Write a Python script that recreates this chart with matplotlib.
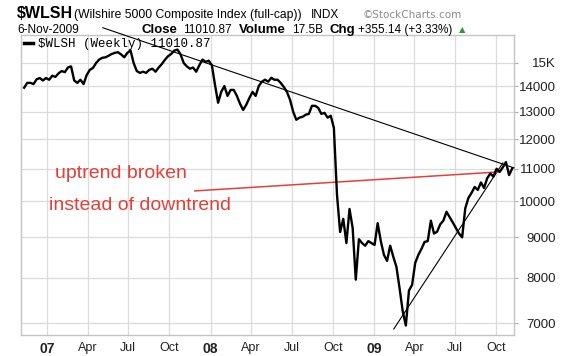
import numpy as np
import pandas as pd
import matplotlib
matplotlib.use("Agg")
import matplotlib.pyplot as plt
import matplotlib.dates as mdates
from matplotlib.ticker import FixedLocator, FixedFormatter, NullLocator

plt.rcParams['font.family'] = ['Liberation Sans', 'DejaVu Sans']

# --- dane (tygodniowe zamknięcia) ---
dates = pd.date_range('2006-11-10', '2009-11-06', freq='W-FRI')
wlsh = [
    13950, 14150, 14150, 14100, 14300, 14350, 14250, 14350, 14280, 14450,
    14400, 14550, 14650, 14600, 14800, 14850, 14250, 14150, 14280, 14100,
    14480, 14700, 14780, 15000, 15150, 15230, 15250, 15320, 15400, 15450,
    15480, 15380, 15250, 15450, 15560, 15000, 14650, 14570, 14620, 14570,
    14700, 14750, 14620, 14800, 14950, 15140, 15300, 15400, 15550, 15600,
    15380, 15000, 14850, 14750, 14800, 14620, 14900, 15150, 15050, 15100,
    14900, 14070, 13350, 13780, 14020, 13620, 13860, 13860, 13620, 13310,
    13070, 13270, 13540, 13780, 13620, 14020, 14200, 14280, 14200, 14360,
    14280, 14280, 14150, 13980, 13780, 13460, 13000, 12700, 12780, 12810,
    12890, 12920, 13230, 13230, 13150, 12920, 12960, 12780, 12850, 12400,
    10190, 9140, 9500, 8850, 9780, 9250, 7950, 8950, 8850, 8780,
    8900, 8850, 8800, 9380, 8900, 8550, 8400, 8780, 8500, 8250,
    7750, 7250, 6950, 7700, 7830, 8350, 8550, 8700, 8880, 8900,
    9450, 9100, 9150, 9350, 9450, 9700, 9550, 9400, 9250, 9100,
    9000, 9800, 10100, 10250, 10430, 10340, 10570, 10400, 10700, 10850,
    10750, 11000, 10900, 11050, 11220, 10800, 11011,
]

# linie trendu (końce)
down_dates = pd.to_datetime(['2007-05-05', '2009-11-10'])
down_vals = [16630, 11030]
up_dates = pd.to_datetime(['2009-02-14', '2009-10-16'])
up_vals = [6880, 11190]
red_dates = pd.to_datetime(['2007-11-27', '2009-10-07'])
red_vals = [10310, 10900]

y_ticks = [7000, 8000, 9000, 10000, 11000, 12000, 13000, 14000, 15000]
y_labels = ['7000', '8000', '9000', '10000', '11000', '12000', '13000', '14000', '15K']
x_ticks = pd.to_datetime(['2007-01-01', '2007-04-01', '2007-07-01', '2007-10-01',
                          '2008-01-01', '2008-04-01', '2008-07-01', '2008-10-01',
                          '2009-01-01', '2009-04-01', '2009-07-01', '2009-10-01'])
x_labels = ['07', 'Apr', 'Jul', 'Oct', '08', 'Apr', 'Jul', 'Oct', '09', 'Apr', 'Jul', 'Oct']

W, H = 576, 356
fig = plt.figure(figsize=(W / 100, H / 100), dpi=100)
ax = fig.add_axes([21 / W, 1 - 335 / H, (514 - 21) / W, (335 - 35) / H])

ax.plot(dates, wlsh, color='black', lw=1.7, label=r'\$WLSH (Weekly) 11010.87', zorder=4)
ax.plot(down_dates, down_vals, color='black', lw=0.8, clip_on=False, zorder=3)
ax.plot(up_dates, up_vals, color='black', lw=0.8, zorder=3)
ax.plot(red_dates, red_vals, color='#e4403a', lw=1.1, zorder=3)

ax.set_yscale('log')
ax.set_ylim(6760, 16280)
ax.set_xlim(pd.Timestamp('2006-11-03'), pd.Timestamp('2009-11-10'))

ax.yaxis.set_major_locator(FixedLocator(y_ticks))
ax.yaxis.set_major_formatter(FixedFormatter(y_labels))
ax.yaxis.set_minor_locator(NullLocator())
ax.yaxis.tick_right()
ax.tick_params(axis='y', which='major', length=3, width=0.8, color='#b0b0b0',
               pad=27, labelsize=9.5, labelcolor='#222222')
for lab in ax.get_yticklabels():
    lab.set_horizontalalignment('right')

ax.set_xticks(mdates.date2num(x_ticks))
ax.set_xticklabels(x_labels)
ax.xaxis.set_minor_locator(NullLocator())
ax.tick_params(axis='x', length=0, pad=5, labelsize=9, labelcolor='#222222')
for lab in ax.get_xticklabels():
    if lab.get_text() in ('07', '08', '09'):
        lab.set_fontweight('bold')
        lab.set_fontsize(10)

ax.grid(True, color='#dcdcdc', lw=0.9)
ax.set_axisbelow(True)
for sp in ax.spines.values():
    sp.set_color('#c4c4c4')
    sp.set_linewidth(1)

leg = ax.legend(loc='upper left', bbox_to_anchor=(0.0, 1.0), frameon=False,
                handlelength=0.7, handletextpad=0.4, borderpad=0.15, borderaxespad=0.1,
                prop={'family': 'Liberation Mono', 'size': 9})
leg.get_lines()[0].set_linewidth(2.5)

# adnotacje
red = '#e4403a'
fig.text(55 / W, 1 - 173 / H, 'uptrend broken', color=red, fontsize=14, va='center')
fig.text(49 / W, 1 - 205 / H, 'instead of downtrend', color=red, fontsize=14, va='center')

# nagłówek w stylu StockCharts
def ht(x, y, s, **kw):
    fig.text(x / W, 1 - y / H, s, va='center', **kw)

ht(17, 14, r'\$WLSH', fontsize=11.5, fontweight='bold')
ht(74, 15, '(Wilshire 5000 Composite Index (full-cap))', fontsize=8.7)
ht(311, 15, 'INDX', fontsize=8.5)
ht(363, 15, '\u00a9StockCharts.com', fontsize=7.5, color='#8a8a8a', family='DejaVu Sans')
ht(17, 30, '6-Nov-2009', fontsize=8.5)
ht(142, 30, 'Close', fontsize=9.5, fontweight='bold')
ht(183, 30, '11010.87', fontsize=8.5)
ht(239, 30, 'Volume', fontsize=9.5, fontweight='bold')
ht(292, 30, '17.5B', fontsize=8.5)
ht(330, 30, 'Chg', fontsize=9.5, fontweight='bold')
ht(358, 30, '+355.14 (+3.33%)', fontsize=8.5)
ht(459, 30, '\u25b2', fontsize=6, color='#2e9a3e', family='DejaVu Sans')

fig.savefig('out.png', dpi=100)
